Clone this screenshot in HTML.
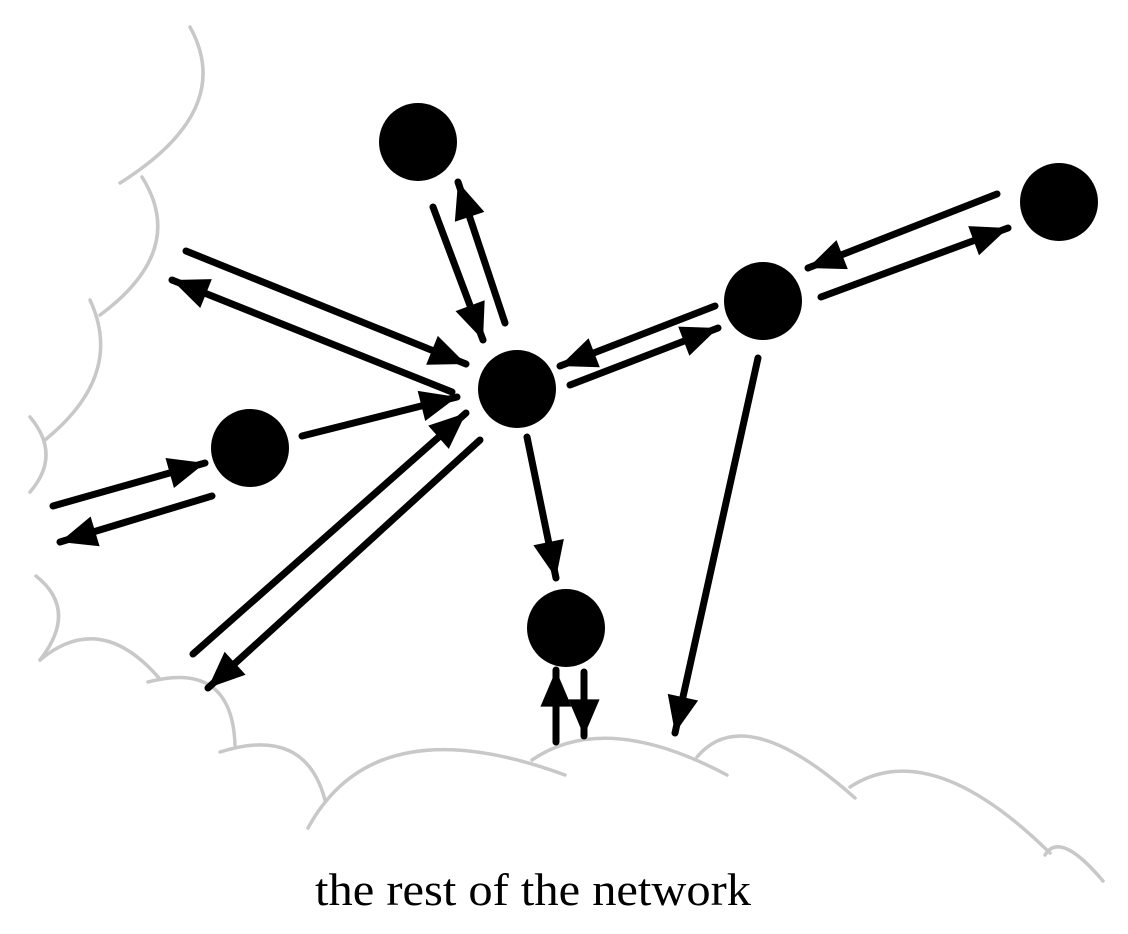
<!DOCTYPE html>
<html><head><meta charset="utf-8"><style>html,body{margin:0;padding:0;background:#fff}svg{display:block}</style></head>
<body>
<svg width="1128" height="934" viewBox="0 0 1128 934" xmlns="http://www.w3.org/2000/svg">
<defs>
<marker id="a" markerUnits="userSpaceOnUse" markerWidth="40" markerHeight="40" viewBox="-34 -15 36 30" refX="0" refY="0" orient="auto">
<path d="M0,0 L-33,-14 L-33,14 Z" fill="#000"/>
</marker>
</defs>
<g fill="none" stroke="#c8c8c8" stroke-width="3.5" stroke-linecap="round">
<path d="M190,27 Q236,110 120,183"/>
<path d="M142,177 Q188,250 100,315"/>
<path d="M90,300 Q125,375 45,440"/>
<path d="M30,417 Q62,455 30,492"/>
<path d="M36,576 Q79,610 40,660"/>
<path d="M40,660 Q100,610 159,678"/>
<path d="M148,682 Q232,660 235,745"/>
<path d="M220,752 Q305,725 325,800"/>
<path d="M308,828 Q375,705 565,775"/>
<path d="M532,760 Q605,710 727,775"/>
<path d="M697,757 Q745,700 855,798"/>
<path d="M850,787 Q930,735 1050,853"/>
<path d="M1045,855 Q1060,830 1103,881"/>
</g>
<g fill="#000">
<circle cx="418" cy="142" r="39"/>
<circle cx="517" cy="389" r="39"/>
<circle cx="763" cy="301" r="39"/>
<circle cx="1059" cy="202" r="39"/>
<circle cx="250" cy="448" r="39"/>
<circle cx="566" cy="628" r="39"/>
</g>
<g stroke="#000" stroke-width="7" stroke-linecap="round" marker-end="url(#a)">
<line x1="186" y1="251" x2="466" y2="364"/>
<line x1="452" y1="392" x2="172" y2="280"/>
<line x1="433" y1="207" x2="483" y2="340"/>
<line x1="505" y1="323" x2="458" y2="182"/>
<line x1="302" y1="436" x2="457" y2="397"/>
<line x1="53" y1="506" x2="205" y2="463"/>
<line x1="212" y1="496" x2="60" y2="542"/>
<line x1="193" y1="654" x2="466" y2="413"/>
<line x1="480" y1="440" x2="208" y2="688"/>
<line x1="570" y1="385" x2="718" y2="328"/>
<line x1="715" y1="306" x2="560" y2="366"/>
<line x1="997" y1="194" x2="808" y2="268"/>
<line x1="821" y1="297" x2="1008" y2="228"/>
<line x1="527" y1="437" x2="556" y2="578"/>
<line x1="758" y1="358" x2="675" y2="733"/>
<line x1="556" y1="742" x2="556" y2="670"/>
<line x1="584" y1="672" x2="584" y2="736"/>
</g>
<text x="315" y="905" font-family="Liberation Serif, serif" font-size="46" textLength="436" lengthAdjust="spacingAndGlyphs" fill="#000">the rest of the network</text>
</svg>
</body></html>
